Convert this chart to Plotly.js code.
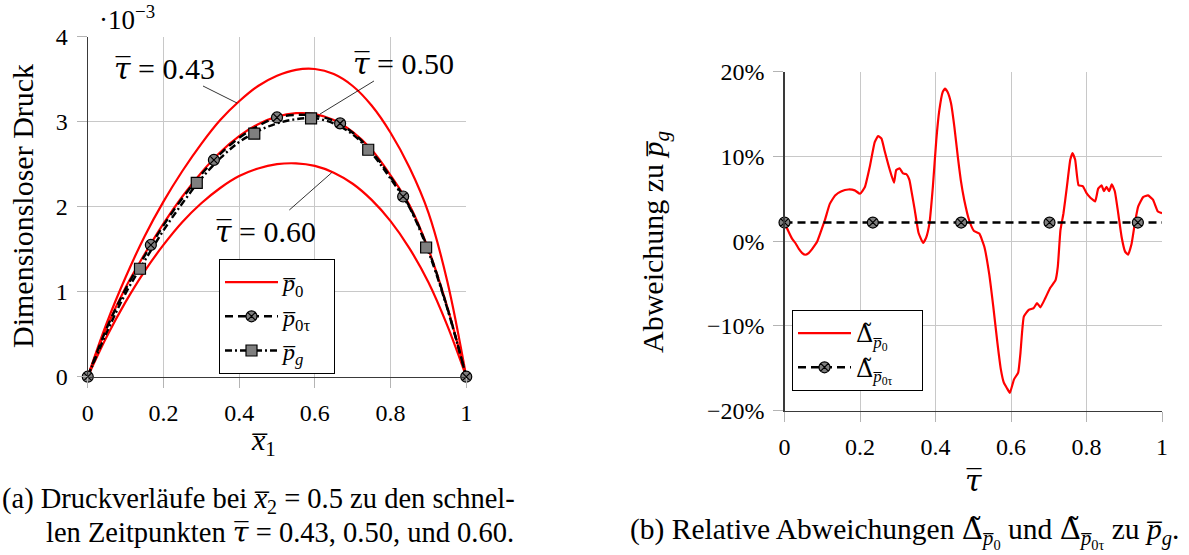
<!DOCTYPE html>
<html>
<head>
<meta charset="utf-8">
<script src="https://cdn.plot.ly/plotly-3.0.1.min.js"></script>
<style>
  html, body { margin: 0; padding: 0; background: #ffffff; }
  #chart { width: 1189px; height: 555px; }
</style>
</head>
<body>
<div id="chart"></div>
<script>
// ---------- (a) pressure along x1 at x2 = 0.5 (values in units of 1e-3) ----------
const x1 = [0, 0.05, 0.1, 0.15, 0.2, 0.25, 0.3, 0.35, 0.4, 0.45, 0.5,
            0.55, 0.6, 0.65, 0.7, 0.75, 0.8, 0.85, 0.9, 0.95, 1];
const p0_tau043 = [0, 0.63, 1.17, 1.65, 2.06, 2.42, 2.74, 3.02, 3.24, 3.42, 3.54,
                   3.61, 3.62, 3.56, 3.42, 3.19, 2.87, 2.46, 1.93, 1.12, 0];
const p0_tau050 = [0, 0.58, 1.05, 1.44, 1.80, 2.12, 2.40, 2.64, 2.83, 2.97, 3.06,
                   3.10, 3.09, 3.02, 2.88, 2.67, 2.37, 2.02, 1.50, 0.82, 0];
const p0_tau060 = [0, 0.47, 0.88, 1.24, 1.55, 1.82, 2.04, 2.22, 2.36, 2.45, 2.50,
                   2.51, 2.48, 2.40, 2.27, 2.08, 1.83, 1.51, 1.11, 0.60, 0];
const p0tau = [0, 0.57, 1.03, 1.42, 1.78, 2.10, 2.38, 2.62, 2.81, 2.95, 3.05,
               3.08, 3.07, 3.01, 2.87, 2.65, 2.35, 2.00, 1.49, 0.81, 0];
const pg = [0, 0.52, 0.98, 1.36, 1.72, 2.04, 2.33, 2.57, 2.76, 2.89, 2.98,
            3.03, 3.04, 2.98, 2.85, 2.63, 2.33, 1.99, 1.47, 0.80, 0];
const p0tauMarkX = [0, 0.1667, 0.3333, 0.5, 0.6667, 0.8333, 1];
const p0tauMarkY = [0, 1.55, 2.55, 3.05, 2.98, 2.12, 0];
const pgMarkX = [0.138, 0.288, 0.44, 0.59, 0.741, 0.894];
const pgMarkY = [1.27, 2.28, 2.86, 3.04, 2.67, 1.52];
const xTicksA = [0, 0.2, 0.4, 0.6, 0.8, 1];
const yTicksA = [0, 1, 2, 3, 4];

// ---------- (b) relative deviation from p_g over tau (percent) ----------
const tau = [0.000, 0.010, 0.020, 0.030, 0.038, 0.047, 0.055, 0.064, 0.072, 0.080,
             0.086, 0.096, 0.107, 0.120, 0.134, 0.151, 0.169, 0.186, 0.200, 0.213,
             0.226, 0.239, 0.248, 0.257, 0.265, 0.279, 0.290, 0.296, 0.305, 0.314,
             0.323, 0.331, 0.336, 0.345, 0.355, 0.367, 0.375, 0.384, 0.393, 0.402,
             0.410, 0.419, 0.425, 0.432, 0.441, 0.450, 0.459, 0.467, 0.476, 0.489,
             0.502, 0.516, 0.529, 0.542, 0.553, 0.564, 0.573, 0.581, 0.590, 0.597,
             0.608, 0.619, 0.625, 0.634, 0.647, 0.660, 0.669, 0.678, 0.691, 0.704,
             0.718, 0.724, 0.731, 0.739, 0.748, 0.757, 0.763, 0.770, 0.779, 0.790,
             0.801, 0.811, 0.823, 0.831, 0.840, 0.846, 0.853, 0.860, 0.867, 0.875,
             0.884, 0.893, 0.902, 0.910, 0.919, 0.928, 0.937, 0.950, 0.963, 0.976,
             0.989, 1.000];
const devP0 = [2.2, 1.2, 0.3, -0.3, -0.9, -1.4, -1.6, -1.4, -1.0, -0.5,
               -0.1, 1.1, 2.5, 4.4, 5.4, 5.9, 6.1, 6.0, 5.6, 6.4,
               8.8, 11.7, 12.4, 12.1, 10.7, 8.4, 6.9, 8.4, 8.6, 8.0,
               7.9, 7.2, 6.0, 3.7, 1.0, -0.2, 0.4, 2.1, 6.4, 11.9,
               15.4, 17.6, 18.0, 17.6, 16.3, 13.5, 10.0, 7.2, 4.9, 2.5,
               1.2, 0.9, -0.6, -3.8, -7.7, -12.0, -15.1, -16.7, -17.4, -17.9,
               -16.3, -15.5, -13.2, -8.9, -8.1, -7.9, -7.3, -7.8, -6.7, -5.5,
               -4.6, -3.0, 1.3, 3.3, 6.4, 9.6, 10.4, 9.6, 6.6, 6.5,
               5.6, 5.1, 4.7, 6.2, 6.6, 5.9, 6.4, 5.9, 6.7, 5.9,
               3.3, 0.5, -1.2, -1.6, -0.4, 2.1, 4.1, 5.2, 5.4, 4.9,
               3.5, 3.3];
const devP0tauX = [0, 1];
const devP0tauY = [2.2, 2.2];
const devMarkX = [0, 0.234, 0.468, 0.702, 0.936];
const devMarkY = [2.2, 2.2, 2.2, 2.2, 2.2];
const xTicksB = [0, 0.2, 0.4, 0.6, 0.8, 1];
const yTicksB = [-20, -10, 0, 10, 20];
const yTickTextB = ['\u221220%', '\u221210%', '0%', '10%', '20%'];

// ---------- page geometry helpers (pixels -> paper) ----------
const W = 1189, H = 555;
const px = v => v / W;
const py = v => 1 - v / H;

const FONT = "'Liberation Serif', 'DejaVu Serif', serif";
const RED = '#ff0000';
const GREY = '#7f7f7f';
const DASH = '8px,5px';
const DASHDOT = '7px,3px,2px,3px';

const circX = { symbol: 'circle-x', size: 11, color: GREY, line: { color: '#000', width: 1.2 } };
const sq = { symbol: 'square', size: 11, color: GREY, line: { color: '#000', width: 1.2 } };

// math-like labels
const DT = "<span style=\"font-family:'DejaVu Serif'\">\u0394\u0303</span>";
const P0 = '<i>p\u0305</i><sub>0</sub>';
const P0T = '<i>p\u0305</i><sub>0\u03c4</sub>';
const PG = '<i>p\u0305</i><sub><i>g</i></sub>';
const D_P0 = DT + '<sub><i>p\u0305</i><sub>0</sub></sub>';
const D_P0T = DT + '<sub><i>p\u0305</i><sub>0\u03c4</sub></sub>';
const TAU = "<span style=\"font-family:'DejaVu Serif'\"><i>\u03c4\u0305</i></span>";
// trailing padding inside the legend boxes
const PAD_A = '\u2002\u2009';
const PAD_B = '\u2002\u2002';

const traces = [
  // panel (a)
  { x: x1, y: p0_tau043, xaxis: 'x', yaxis: 'y', mode: 'lines', name: P0 + PAD_A, legend: 'legend',
    legendrank: 1, line: { color: RED, width: 2.2, shape: 'spline', smoothing: 1 } },
  { x: x1, y: p0_tau050, xaxis: 'x', yaxis: 'y', mode: 'lines', showlegend: false,
    line: { color: RED, width: 2.2, shape: 'spline', smoothing: 1 } },
  { x: x1, y: p0_tau060, xaxis: 'x', yaxis: 'y', mode: 'lines', showlegend: false,
    line: { color: RED, width: 2.2, shape: 'spline', smoothing: 1 } },
  { x: x1, y: p0tau, xaxis: 'x', yaxis: 'y', mode: 'lines', showlegend: false,
    line: { color: '#000', width: 2.4, dash: DASH, shape: 'spline', smoothing: 1 } },
  { x: x1, y: pg, xaxis: 'x', yaxis: 'y', mode: 'lines', showlegend: false,
    line: { color: '#000', width: 2.4, dash: DASHDOT, shape: 'spline', smoothing: 1 } },
  { x: p0tauMarkX, y: p0tauMarkY, xaxis: 'x', yaxis: 'y', mode: 'markers', showlegend: false,
    cliponaxis: false, marker: circX },
  { x: pgMarkX, y: pgMarkY, xaxis: 'x', yaxis: 'y', mode: 'markers', showlegend: false,
    cliponaxis: false, marker: sq },
  // legend entries with line + marker
  { x: [null], y: [null], xaxis: 'x', yaxis: 'y', mode: 'lines+markers', name: P0T + PAD_A,
    legend: 'legend', legendrank: 2, line: { color: '#000', width: 2.4, dash: DASH }, marker: circX },
  { x: [null], y: [null], xaxis: 'x', yaxis: 'y', mode: 'lines+markers', name: PG + PAD_A,
    legend: 'legend', legendrank: 3, line: { color: '#000', width: 2.4, dash: DASHDOT }, marker: sq },

  // panel (b)
  { x: tau, y: devP0, xaxis: 'x2', yaxis: 'y2', mode: 'lines', name: D_P0 + PAD_B, legend: 'legend2',
    legendrank: 1, line: { color: RED, width: 2.2, shape: 'spline', smoothing: 0.4 } },
  { x: devP0tauX, y: devP0tauY, xaxis: 'x2', yaxis: 'y2', mode: 'lines', showlegend: false,
    line: { color: '#000', width: 2.4, dash: DASH } },
  { x: devMarkX, y: devMarkY, xaxis: 'x2', yaxis: 'y2', mode: 'markers', showlegend: false,
    cliponaxis: false, marker: circX },
  { x: [null], y: [null], xaxis: 'x2', yaxis: 'y2', mode: 'lines+markers', name: D_P0T + PAD_B,
    legend: 'legend2', legendrank: 2, line: { color: '#000', width: 2.4, dash: DASH }, marker: circX }
];

const axisCommon = {
  showgrid: true, gridcolor: '#c8c8c8', gridwidth: 1,
  showline: true, linecolor: '#3a3a3a', linewidth: 1.2, mirror: false,
  zeroline: false, ticks: 'outside', ticklen: 10, tickwidth: 1, tickcolor: '#b4b4b4',
  tickfont: { family: FONT, size: 24, color: '#000' }, ticklabelstandoff: 4,
  fixedrange: true, automargin: false
};

const leader = (xa, ya, xb, yb) => ({
  type: 'line', xref: 'x', yref: 'y', x0: xa, y0: ya, x1: xb, y1: yb,
  line: { color: '#000', width: 0.8 }
});

const note = (x, y, text, size, extra) => Object.assign({
  xref: 'paper', yref: 'paper', x: px(x), y: py(y), text: text, showarrow: false,
  xanchor: 'center', yanchor: 'middle', font: { family: FONT, size: size, color: '#000' }
}, extra || {});

const legendStyle = {
  xanchor: 'left', yanchor: 'top', bgcolor: '#ffffff', bordercolor: '#000', borderwidth: 1,
  font: { family: FONT, size: 24, color: '#000' }, itemwidth: 53, traceorder: 'normal'
};

const layout = {
  width: W, height: H,
  margin: { l: 0, r: 0, t: 0, b: 0 },
  paper_bgcolor: '#ffffff', plot_bgcolor: '#ffffff',
  font: { family: FONT, size: 24, color: '#000' },
  xaxis: Object.assign({}, axisCommon, {
    domain: [px(87.75), px(466.25)], range: [0, 1], anchor: 'y', tickvals: xTicksA
  }),
  yaxis: Object.assign({}, axisCommon, {
    domain: [py(376.7), py(36.7)], range: [0, 4], anchor: 'x', tickvals: yTicksA
  }),
  xaxis2: Object.assign({}, axisCommon, {
    domain: [px(784.5), px(1162)], range: [0, 1], anchor: 'y2', tickvals: xTicksB
  }),
  yaxis2: Object.assign({}, axisCommon, {
    domain: [py(410.7), py(71.7)], range: [-20, 20], anchor: 'x2',
    tickvals: yTicksB, ticktext: yTickTextB
  }),
  legend: Object.assign({}, legendStyle, { x: px(219), y: py(259) }),
  legend2: Object.assign({}, legendStyle, { x: px(792), y: py(310) }),
  shapes: [
    leader(0.3045, 3.42, 0.3943, 3.22),
    leader(0.7562, 3.479, 0.6136, 3.09),
    leader(0.6445, 2.40, 0.5325, 1.961)
  ],
  annotations: [
    // curve labels in panel (a)
    { xref: 'x', yref: 'y', x: 0.2028, y: 3.63, text: TAU + ' = 0.43', showarrow: false,
      font: { family: FONT, size: 30 } },
    { xref: 'x', yref: 'y', x: 0.8355, y: 3.69, text: TAU + ' = 0.50', showarrow: false,
      font: { family: FONT, size: 30 } },
    { xref: 'x', yref: 'y', x: 0.470, y: 1.706, text: TAU + ' = 0.60', showarrow: false,
      font: { family: FONT, size: 30 } },
    // scale factor of the pressure axis
    note(97, 18, '\u00b710<sup>\u22123</sup>', 27, { xanchor: 'left' }),
    // axis titles
    note(263, 442, '<i>x\u0305</i><sub>1</sub>', 30),
    note(22, 206, 'Dimensionsloser Druck', 30, { textangle: -90 }),
    note(973, 480, TAU, 30),
    note(655, 242, 'Abweichung zu ' + PG, 30, { textangle: -90 }),
    // sub-captions
    note(0, 500, '(a) Druckverläufe bei <i>x\u0305</i><sub>2</sub> = 0.5 zu den schnel-', 28.5,
         { xanchor: 'left' }),
    note(44, 532, 'len Zeitpunkten ' + TAU + ' = 0.43, 0.50, und 0.60.', 28.5, { xanchor: 'left' }),
    note(904, 532, '(b) Relative Abweichungen ' + D_P0 + ' und ' + D_P0T + ' zu ' + PG + '.', 29.5)
  ]
};

Plotly.newPlot('chart', traces, layout, { staticPlot: true, displayModeBar: false });
</script>
</body>
</html>
